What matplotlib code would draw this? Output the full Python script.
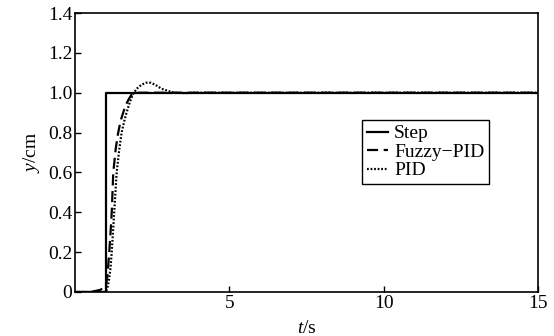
#!/usr/bin/env python3
import numpy as np
import matplotlib
matplotlib.use("Agg")
import matplotlib.pyplot as plt

# ========================================================================
# Data
# ========================================================================
t_step = [0.0, 1.0, 1.0, 15.0]
y_step = [0.0, 0.0, 1.0, 1.0]

t_fuzzy = [0.0, 0.5, 0.8, 0.95, 1.0, 1.05, 1.11, 1.16, 1.19, 1.24, 1.32,
           1.40, 1.48, 1.56, 1.65, 1.75, 1.83, 2.0, 2.5, 15.0]
y_fuzzy = [0.0, 0.0, 0.01, 0.02, 0.03, 0.08, 0.20, 0.32, 0.40, 0.60, 0.72,
           0.80, 0.86, 0.90, 0.94, 0.97, 0.99, 1.0, 1.0, 1.0]

t_pid = [0.0, 0.8, 1.0, 1.05, 1.1, 1.15, 1.19, 1.27, 1.35, 1.43, 1.51,
         1.60, 1.67, 1.77, 1.87, 2.0, 2.15, 2.3, 2.45, 2.6, 2.8, 3.0,
         3.2, 3.6, 4.0, 15.0]
y_pid = [0.0, 0.0, 0.0, 0.02, 0.06, 0.12, 0.20, 0.40, 0.60, 0.71, 0.80,
         0.86, 0.90, 0.95, 0.99, 1.02, 1.04, 1.05, 1.05, 1.04, 1.02, 1.01,
         1.0, 0.998, 1.0, 1.0]

xticks = [5, 10, 15]
yticks = [0, 0.2, 0.4, 0.6, 0.8, 1.0, 1.2, 1.4]
yticklabels = ["0", "0.2", "0.4", "0.6", "0.8", "1.0", "1.2", "1.4"]

# ========================================================================
# Plot
# ========================================================================
plt.rcParams["font.family"] = ["Liberation Serif", "DejaVu Serif"]
plt.rcParams["mathtext.fontset"] = "custom"
plt.rcParams["mathtext.it"] = "Liberation Serif:italic"
plt.rcParams["mathtext.rm"] = "Liberation Serif"

fs = 14
fig = plt.figure(figsize=(5.54, 3.36), dpi=100)
ax = fig.add_axes([75 / 554, 44 / 336, 463 / 554, 279 / 336])

ax.plot(t_step, y_step, ls="-", lw=1.6, color="k", label="Step")
p = ax.plot(t_fuzzy, y_fuzzy, ls="--", lw=1.6, color="k", label="Fuzzy\u2212PID")
p[0].set_dashes([5, 2.5])
p = ax.plot(t_pid, y_pid, ls=":", lw=1.6, color="k", label="PID")
p[0].set_dashes([0.8, 0.8])

ax.set_xlim(0, 15)
ax.set_ylim(0, 1.4)
ax.set_xticks(xticks)
ax.set_yticks(yticks)
ax.set_yticklabels(yticklabels)
ax.tick_params(direction="in", length=4, width=1, labelsize=fs, pad=2,
               top=False, right=False)
for s in ax.spines.values():
    s.set_linewidth(1.2)

ax.set_xlabel(r"$t$/s", fontsize=fs, labelpad=6)
ax.set_ylabel(r"$y$/cm", fontsize=fs, labelpad=4)

leg = ax.legend(loc="upper left", bbox_to_anchor=(0.62, 0.617), fontsize=fs,
                frameon=True, fancybox=False, edgecolor="k", framealpha=1,
                handlelength=1.1, handletextpad=0.3, borderpad=0.25,
                labelspacing=0.05, borderaxespad=0)
leg.get_frame().set_linewidth(1.0)

fig.savefig("out.png", dpi=100)
